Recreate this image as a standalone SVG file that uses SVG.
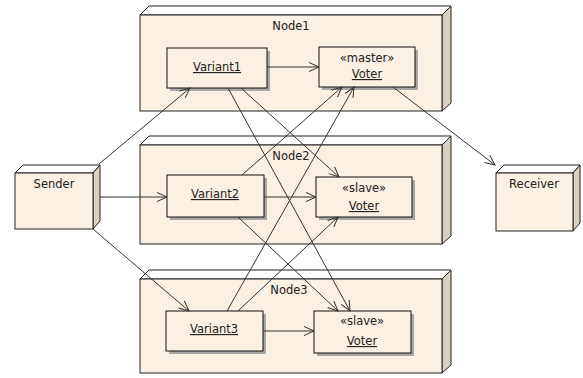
<svg xmlns="http://www.w3.org/2000/svg" width="583" height="378" viewBox="0 0 583 378">
<defs>
<style>
.front{fill:#FAF0E3;stroke:#222;stroke-width:1}
.top{fill:#FFFFFF;stroke:#222;stroke-width:1}
.side{fill:#D9D0C2;stroke:#222;stroke-width:1}
.box{fill:#FAF0E3;stroke:#111;stroke-width:1}
.shadow{fill:#A8A8A8}
.t{font-family:"DejaVu Sans","Liberation Sans",sans-serif;font-size:11.5px;fill:#222;text-anchor:middle}
.u{text-decoration:underline}
.c{stroke:#333;stroke-width:1;fill:none;marker-end:url(#arr)}
</style>
<marker id="arr" markerUnits="userSpaceOnUse" markerWidth="14" markerHeight="12" refX="11" refY="6" orient="auto" viewBox="0 0 14 12">
<path d="M1,1.5 L11,6 L1,10.5" fill="none" stroke="#333" stroke-width="1"/>
</marker>
</defs>
<rect width="583" height="378" fill="#FFFFFF"/>

<g id="Node1">
<polygon class="top" points="140,15 149,6 451,6 442,15"/>
<polygon class="side" points="442,15 451,6 451,103 442,111"/>
<rect class="front" x="140" y="15" width="302" height="96"/>
<text class="t" x="291" y="30">Node1</text>
<g id="Variant1">
<rect class="shadow" x="170" y="51" width="100" height="40"/>
<rect class="box" x="167" y="48" width="100" height="40"/>
<text class="t u" x="217" y="71">Variant1</text>
</g>
<g id="Voter1">
<rect class="shadow" x="322" y="50" width="96" height="40"/>
<rect class="box" x="319" y="47" width="96" height="40"/>
<text class="t" x="367" y="62">«master»</text>
<text class="t u" x="367" y="78">Voter</text>
</g>
</g>

<g id="Node2">
<polygon class="top" points="140,145 149,136 451,136 442,145"/>
<polygon class="side" points="442,145 451,136 451,236 442,244"/>
<rect class="front" x="140" y="145" width="302" height="99"/>
<text class="t" x="291" y="160">Node2</text>
<g id="Variant2">
<rect class="shadow" x="170" y="178" width="97" height="42"/>
<rect class="box" x="167" y="175" width="97" height="42"/>
<text class="t u" x="215" y="198">Variant2</text>
</g>
<g id="Voter2">
<rect class="shadow" x="319" y="180" width="96" height="40"/>
<rect class="box" x="316" y="177" width="96" height="40"/>
<text class="t" x="364" y="192">«slave»</text>
<text class="t u" x="364" y="210">Voter</text>
</g>
</g>

<g id="Node3">
<polygon class="top" points="140,279 149,270 451,270 442,279"/>
<polygon class="side" points="442,279 451,270 451,365 442,373"/>
<rect class="front" x="140" y="279" width="302" height="94"/>
<text class="t" x="289" y="294">Node3</text>
<g id="Variant3">
<rect class="shadow" x="169" y="314" width="97" height="40"/>
<rect class="box" x="166" y="311" width="97" height="40"/>
<text class="t u" x="214" y="333">Variant3</text>
</g>
<g id="Voter3">
<rect class="shadow" x="317" y="314" width="97" height="42"/>
<rect class="box" x="314" y="311" width="97" height="42"/>
<text class="t" x="362" y="325">«slave»</text>
<text class="t u" x="362" y="345">Voter</text>
</g>
</g>

<g id="Sender">
<polygon class="top" points="15,173 23,165 100,165 93,173"/>
<polygon class="side" points="93,173 100,165 100,221 93,229"/>
<rect class="front" x="15" y="173" width="78" height="56"/>
<text class="t" x="54" y="188">Sender</text>
</g>

<g id="Receiver">
<polygon class="top" points="496,173 504,165 580,165 573,173"/>
<polygon class="side" points="573,173 580,165 580,223 573,231"/>
<rect class="front" x="496" y="173" width="77" height="58"/>
<text class="t" x="534" y="188">Receiver</text>
</g>

<g id="connectors">
<line class="c" x1="267" y1="67" x2="319" y2="67"/>
<line class="c" x1="264" y1="197" x2="316" y2="197"/>
<line class="c" x1="263" y1="331" x2="314" y2="331"/>
<line class="c" x1="99" y1="164" x2="190" y2="88"/>
<line class="c" x1="100" y1="197" x2="167" y2="197"/>
<line class="c" x1="93" y1="229" x2="189" y2="311"/>
<line class="c" x1="393" y1="87" x2="495" y2="165"/>
<line class="c" x1="241" y1="88" x2="339" y2="177"/>
<line class="c" x1="228" y1="88" x2="350" y2="311"/>
<line class="c" x1="242" y1="175" x2="342" y2="87"/>
<line class="c" x1="238" y1="217" x2="338" y2="311"/>
<line class="c" x1="227" y1="311" x2="354" y2="87"/>
<line class="c" x1="238" y1="311" x2="338" y2="217"/>
</g>
</svg>
